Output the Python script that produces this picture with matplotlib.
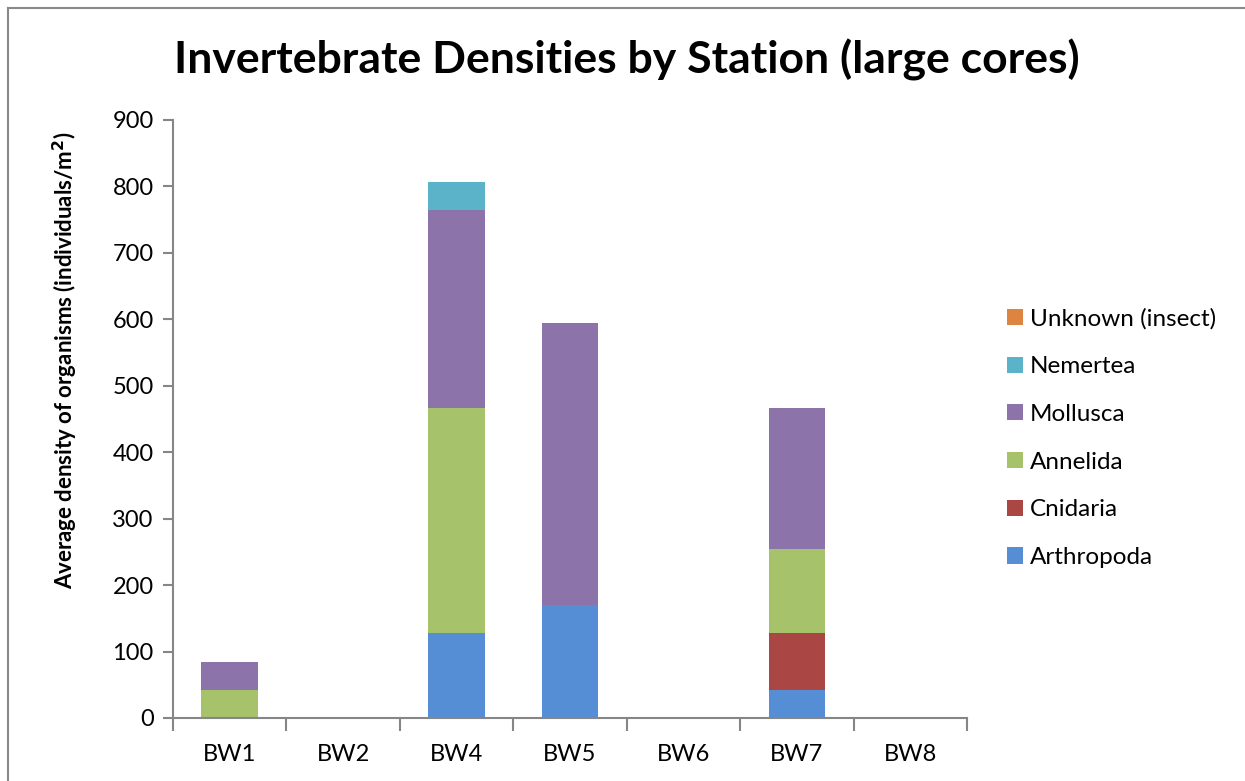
"""
Stacked bar chart of invertebrate densities per station (large cores).
"""

import matplotlib
matplotlib.use("Agg")

import matplotlib.pyplot as plt
from matplotlib.lines import Line2D
from matplotlib.patches import Patch
import numpy as np

plt.rcParams["font.family"] = ["Lato", "DejaVu Sans"]

stations = ["BW1", "BW2", "BW4", "BW5", "BW6", "BW7", "BW8"]

# Densities in individuals/m^2, one list per phylum (stacking order bottom -> top)
arthropoda = [0, 0, 127.3, 169.8, 0, 42.4, 0]
cnidaria = [0, 0, 0, 0, 0, 84.9, 0]
annelida = [42.4, 0, 339.5, 0, 0, 127.3, 0]
mollusca = [42.4, 0, 297.1, 424.4, 0, 212.2, 0]
nemertea = [0, 0, 42.4, 0, 0, 0, 0]
unknown_insect = [0, 0, 0, 0, 0, 0, 0]

series = [
    ("Arthropoda", arthropoda, "#558ED5"),
    ("Cnidaria", cnidaria, "#AA4643"),
    ("Annelida", annelida, "#A6C26A"),
    ("Mollusca", mollusca, "#8C74AB"),
    ("Nemertea", nemertea, "#5BB3CA"),
    ("Unknown (insect)", unknown_insect, "#DD8540"),
]

fig = plt.figure(figsize=(12.45, 7.81), dpi=100)
ax = fig.add_axes([173 / 1245, 1 - 718 / 781, (967 - 173) / 1245, (718 - 120) / 781])

x = np.arange(len(stations))
bottom = np.zeros(len(stations))
for name, vals, color in series:
    vals = np.array(vals, dtype=float)
    ax.bar(x, vals, bottom=bottom, width=0.5, color=color, label=name, linewidth=0)
    bottom += vals

axis_grey = "#868686"
ax.set_xlim(-0.5, len(stations) - 0.5)
ax.set_ylim(0, 900)
ax.set_yticks(np.arange(0, 901, 100))
ax.set_xticks(x)
ax.set_xticklabels(stations)
ax.set_xticks(np.arange(-0.5, len(stations), 1.0), minor=True)
ax.tick_params(axis="x", which="major", length=0, pad=19, labelsize=17)
ax.tick_params(axis="x", which="minor", length=9, width=1.5, color=axis_grey, direction="out")
ax.tick_params(axis="y", length=7, width=1.5, color=axis_grey, pad=7, labelsize=17)

for side in ("top", "right"):
    ax.spines[side].set_visible(False)
for side in ("left", "bottom"):
    ax.spines[side].set_color(axis_grey)
    ax.spines[side].set_linewidth(1.5)

ax.set_ylabel("Average density of organisms (individuals/m$^\\mathbf{2}$)",
              fontsize=16, fontweight="bold", va="center")
ax.yaxis.set_label_coords(-0.135, 0.598)

fig.text(627 / 1245, 1 - 60 / 781, "Invertebrate Densities by Station (large cores)",
         ha="center", va="center", fontsize=32, fontweight="bold")

# Legend listed top -> bottom in reverse stacking order
handles = [Patch(facecolor=c, edgecolor="none") for _, _, c in series][::-1]
labels = [n for n, _, _ in series][::-1]
fig.legend(handles, labels, loc="center left", bbox_to_anchor=(1007 / 1245, 1 - 438 / 781),
           frameon=False, fontsize=17.5, handlelength=0.65, handleheight=0.65,
           handletextpad=0.3, labelspacing=1.1, borderaxespad=0, borderpad=0)

# Chart-area border (top and left edges)
border = dict(color="#898989", linewidth=1.5, transform=fig.transFigure)
fig.add_artist(Line2D([8 / 1245, 1], [1 - 8 / 781, 1 - 8 / 781], **border))
fig.add_artist(Line2D([8 / 1245, 8 / 1245], [0, 1 - 8 / 781], **border))

fig.savefig("out.png", dpi=100)
plt.close(fig)
